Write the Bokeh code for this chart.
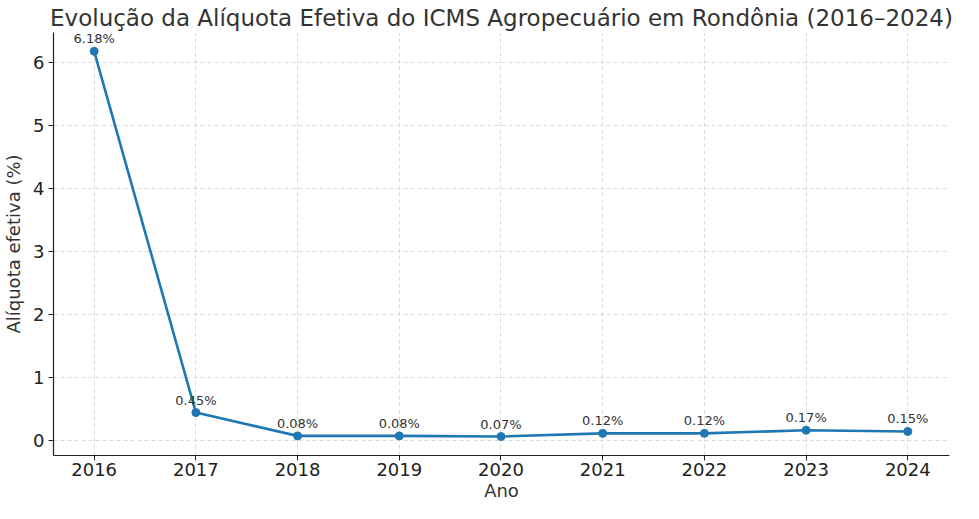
from bokeh.plotting import figure
from bokeh.models import ColumnDataSource, Range1d, FixedTicker, LabelSet
from bokeh.core.properties import value
from bokeh.embed import file_html
from bokeh.resources import INLINE

anos = [2016, 2017, 2018, 2019, 2020, 2021, 2022, 2023, 2024]
aliquota = [6.18, 0.45, 0.08, 0.08, 0.07, 0.12, 0.12, 0.17, 0.15]
rotulos = [f"{v:.2f}%" for v in aliquota]
y_ticks = [0, 1, 2, 3, 4, 5, 6]

src = ColumnDataSource(dict(x=anos, y=aliquota, lab=rotulos))

FONT = "DejaVu Sans"
TXT = "#333333"

p = figure(width=963, height=503, output_backend="svg", toolbar_location=None,
           x_range=Range1d(2015.6, 2024.41), y_range=Range1d(-0.231, 6.478),
           title="Evolução da Alíquota Efetiva do ICMS Agropecuário em Rondônia (2016–2024)",
           min_border_left=46, min_border_right=14, min_border_top=32, min_border_bottom=0)

p.title.text_font = FONT
p.title.text_font_size = "23px"
p.title.text_font_style = "normal"
p.title.text_color = TXT
p.title.align = "center"
p.title.standoff = 4

p.outline_line_color = None
p.background_fill_color = "white"

for ax in (p.xaxis[0], p.yaxis[0]):
    ax.axis_line_color = "#222222"
    ax.axis_line_width = 1.2
    ax.major_tick_line_color = "#222222"
    ax.major_tick_in = 0
    ax.major_tick_out = 5
    ax.minor_tick_line_color = None
    ax.major_label_text_font = FONT
    ax.major_label_text_font_size = "18px"
    ax.major_label_text_color = "#222222"
    ax.axis_label_text_font = FONT
    ax.axis_label_text_font_size = "18px"
    ax.axis_label_text_font_style = "normal"
    ax.axis_label_text_color = TXT

p.yaxis.major_label_standoff = 4
p.yaxis.axis_label_standoff = 6
p.xaxis.major_label_standoff = 2
p.xaxis.axis_label_standoff = 1

p.xaxis.axis_label = "Ano"
p.yaxis.axis_label = "Alíquota efetiva (%)"
p.xaxis.ticker = FixedTicker(ticks=anos)
p.yaxis.ticker = FixedTicker(ticks=y_ticks)

p.xgrid.ticker = FixedTicker(ticks=anos)
p.ygrid.ticker = FixedTicker(ticks=y_ticks)
for g in (p.xgrid[0], p.ygrid[0]):
    g.grid_line_color = "#cccccc"
    g.grid_line_dash = "4 3"
    g.grid_line_width = 0.8
    g.grid_line_alpha = 0.9

p.line("x", "y", source=src, line_color="#1f77b4", line_width=2.6)
p.scatter("x", "y", source=src, size=8, fill_color="#1f77b4", line_color="#1f77b4")

labels = LabelSet(x="x", y="y", text="lab", source=src, y_offset=8,
                  text_align="center", text_baseline="alphabetic",
                  text_font=value(FONT), text_font_size="13px", text_color=TXT)
p.add_layout(labels)

open("out.html", "w").write(file_html(p, INLINE))
